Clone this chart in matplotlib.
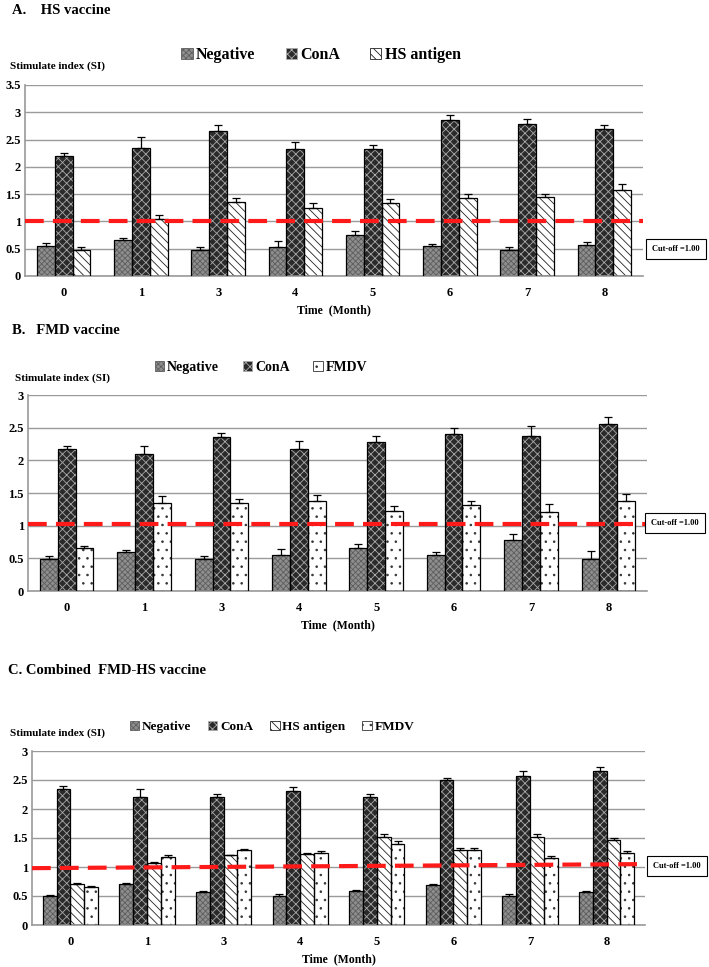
import numpy as np
import matplotlib
matplotlib.use('Agg')
import matplotlib.pyplot as plt
from matplotlib.patches import Patch

plt.rcParams['font.family'] = ['Liberation Serif', 'DejaVu Serif']
plt.rcParams['font.weight'] = 'bold'
plt.rcParams['hatch.linewidth'] = 0.6

months = ['0', '1', '3', '4', '5', '6', '7', '8']

# A. HS vaccine
a_neg = [0.55, 0.66, 0.48, 0.53, 0.75, 0.55, 0.48, 0.57]
a_neg_err = [0.05, 0.04, 0.05, 0.11, 0.07, 0.03, 0.05, 0.06]
a_cona = [2.20, 2.35, 2.65, 2.33, 2.33, 2.85, 2.78, 2.70]
a_cona_err = [0.06, 0.19, 0.12, 0.12, 0.07, 0.10, 0.10, 0.07]
a_hs = [0.48, 1.05, 1.36, 1.24, 1.34, 1.43, 1.45, 1.58]
a_hs_err = [0.05, 0.07, 0.07, 0.10, 0.07, 0.07, 0.06, 0.11]

# B. FMD vaccine
b_neg = [0.49, 0.60, 0.49, 0.55, 0.66, 0.55, 0.78, 0.49]
b_neg_err = [0.04, 0.03, 0.04, 0.09, 0.06, 0.04, 0.10, 0.12]
b_cona = [2.18, 2.10, 2.35, 2.18, 2.28, 2.40, 2.38, 2.55]
b_cona_err = [0.04, 0.12, 0.07, 0.12, 0.09, 0.10, 0.14, 0.12]
b_fmdv = [0.66, 1.35, 1.35, 1.38, 1.23, 1.31, 1.21, 1.37]
b_fmdv_err = [0.03, 0.10, 0.06, 0.09, 0.07, 0.06, 0.12, 0.12]

# C. Combined FMD-HS vaccine
c_neg = [0.50, 0.70, 0.57, 0.50, 0.59, 0.69, 0.50, 0.57]
c_neg_err = [0.01, 0.02, 0.01, 0.04, 0.01, 0.01, 0.03, 0.01]
c_cona = [2.34, 2.21, 2.21, 2.31, 2.20, 2.50, 2.57, 2.65]
c_cona_err = [0.06, 0.14, 0.05, 0.07, 0.06, 0.04, 0.09, 0.08]
c_hs = [0.70, 1.07, 1.20, 1.22, 1.52, 1.29, 1.52, 1.47]
c_hs_err = [0.02, 0.02, 0.01, 0.03, 0.05, 0.04, 0.05, 0.03]
c_fmdv = [0.65, 1.18, 1.29, 1.25, 1.39, 1.29, 1.15, 1.24]
c_fmdv_err = [0.02, 0.02, 0.02, 0.02, 0.06, 0.04, 0.04, 0.04]

cutoff_a = (1.0, 1.0)
cutoff_b = (1.02, 1.02)
cutoff_c = (0.98, 1.05)

# estilos de relleno (fondo, trama, color de trama)
styles = {
    'Negative': ('#8e8e8e', 'xxxxxx', '#5e5e5e'),
    'ConA': ('#2a2a2a', 'xxxx', '#aaaaaa'),
    'HS antigen': ('white', '\\\\\\\\', '#222222'),
    'FMDV': ('white', '..', '#333333'),
}


def draw_bar(ax, x, vals, err, width, name):
    fc, hatch, hc = styles[name]
    ax.bar(x, vals, width, color=fc, hatch=hatch, edgecolor=hc, linewidth=0, zorder=2)
    ax.bar(x, vals, width, fill=False, edgecolor='black', linewidth=0.9, zorder=3)
    ax.errorbar(x, vals, yerr=[np.zeros(len(vals)), err], fmt='none', ecolor='black',
                elinewidth=0.9, capsize=3, capthick=0.9, zorder=4)


def legend_handles(names):
    hs = []
    for n in names:
        fc, hatch, hc = styles[n]
        hs.append(Patch(facecolor=fc, hatch=hatch, edgecolor=hc, linewidth=0.6))
    return hs


def panel(rect, series, ymax, cutoff, width):
    ax = fig.add_axes(rect)
    x = np.arange(len(months))
    n = len(series)
    for i, (name, vals, err) in enumerate(series):
        draw_bar(ax, x + (i - (n - 1) / 2) * width, vals, err, width, name)
    ax.plot([-0.5, 7.5], list(cutoff), color='#ff1a1a', lw=3, dashes=(4.5, 2.2), zorder=5)
    ax.set_xlim(-0.5, 7.5)
    ax.set_ylim(0, ymax)
    ax.set_yticks(np.arange(0, ymax + 0.01, 0.5))
    ax.set_yticklabels(['%g' % v for v in np.arange(0, ymax + 0.01, 0.5)])
    ax.set_xticks(x)
    ax.set_xticklabels(months)
    ax.yaxis.grid(True, color='#9a9a9a', lw=1, zorder=0)
    ax.set_axisbelow(True)
    for s in ['top', 'right']:
        ax.spines[s].set_visible(False)
    for s in ['left', 'bottom']:
        ax.spines[s].set_color('#9a9a9a')
        ax.spines[s].set_linewidth(1.2)
    ax.tick_params(axis='both', length=0, labelsize=9, pad=8)
    ax.tick_params(axis='y', pad=3)
    ax.set_xlabel('Time  (Month)', fontsize=8.5, fontweight='bold', labelpad=4)
    return ax


fig = plt.figure(figsize=(7.09, 9.67), dpi=100)
H = 967.0
W = 709.0

# Panel A
ax_a = panel([25 / W, 1 - 276 / H, 618 / W, 191 / H],
             [('Negative', a_neg, a_neg_err), ('ConA', a_cona, a_cona_err), ('HS antigen', a_hs, a_hs_err)],
             3.5, cutoff_a, 0.23)
fig.text(12 / W, 1 - 10 / H, 'A.    HS vaccine', fontsize=10.5, va='center')
fig.text(10 / W, 1 - 66 / H, 'Stimulate index (SI)', fontsize=8, va='center')
fig.legend(legend_handles(['Negative', 'ConA', 'HS antigen']), ['Negative', 'ConA', 'HS antigen'],
           loc='center', bbox_to_anchor=(321 / W, 1 - 55 / H), ncol=3, frameon=False,
           fontsize=11.5, handlelength=0.7, handleheight=0.7, handletextpad=0.2, columnspacing=1.9)
fig.text(676 / W, 1 - 249 / H, 'Cut-off =1.00', fontsize=6, ha='center', va='center',
         bbox=dict(boxstyle='square,pad=0.7', fc='white', ec='black', lw=0.8))

# Panel B
ax_b = panel([28 / W, 1 - 591 / H, 619 / W, 196 / H],
             [('Negative', b_neg, b_neg_err), ('ConA', b_cona, b_cona_err), ('FMDV', b_fmdv, b_fmdv_err)],
             3.0, cutoff_b, 0.23)
fig.text(12 / W, 1 - 331 / H, 'B.   FMD vaccine', fontsize=10.5, va='center')
fig.text(15 / W, 1 - 378 / H, 'Stimulate index (SI)', fontsize=8, va='center')
fig.legend(legend_handles(['Negative', 'ConA', 'FMDV']), ['Negative', 'ConA', 'FMDV'],
           loc='center', bbox_to_anchor=(261 / W, 1 - 367 / H), ncol=3, frameon=False,
           fontsize=10, handlelength=0.7, handleheight=0.7, handletextpad=0.2, columnspacing=1.7)
fig.text(675 / W, 1 - 523 / H, 'Cut-off =1.00', fontsize=6, ha='center', va='center',
         bbox=dict(boxstyle='square,pad=0.7', fc='white', ec='black', lw=0.8))

# Panel C
ax_c = panel([32 / W, 1 - 925 / H, 613 / W, 174 / H],
             [('Negative', c_neg, c_neg_err), ('ConA', c_cona, c_cona_err),
              ('HS antigen', c_hs, c_hs_err), ('FMDV', c_fmdv, c_fmdv_err)],
             3.0, cutoff_c, 0.18)
fig.text(8 / W, 1 - 670 / H, 'C. Combined  FMD-HS vaccine', fontsize=10.5, va='center')
fig.text(10 / W, 1 - 733 / H, 'Stimulate index (SI)', fontsize=8, va='center')
fig.legend(legend_handles(['Negative', 'ConA', 'HS antigen', 'FMDV']), ['Negative', 'ConA', 'HS antigen', 'FMDV'],
           loc='center', bbox_to_anchor=(272 / W, 1 - 727 / H), ncol=4, frameon=False,
           fontsize=9.5, handlelength=0.7, handleheight=0.7, handletextpad=0.2, columnspacing=1.3)
fig.text(677 / W, 1 - 866 / H, 'Cut-off =1.00', fontsize=6, ha='center', va='center',
         bbox=dict(boxstyle='square,pad=0.7', fc='white', ec='black', lw=0.8))

fig.savefig('out.png', dpi=100)
